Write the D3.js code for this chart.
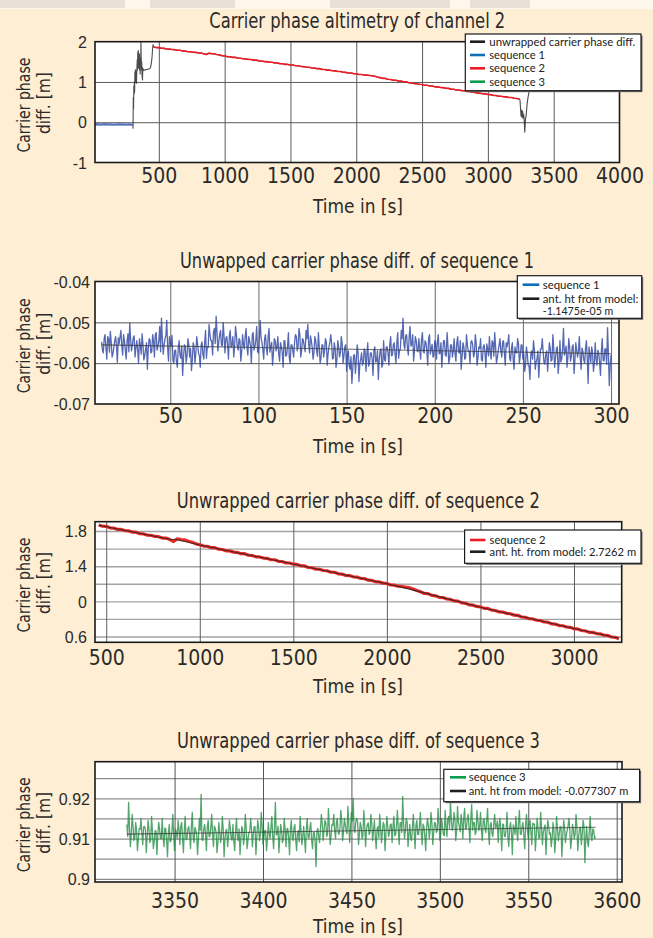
<!DOCTYPE html>
<html>
<head>
<meta charset="utf-8">
<script src="https://cdn.jsdelivr.net/npm/d3@7"></script>
<style>
  html, body { margin: 0; padding: 0; background: #fdeed4; }
  svg { display: block; }
</style>
</head>
<body>
<svg id="fig" width="653" height="938"></svg>
<script>
// ---------------------------------------------------------------------------
// Data (time in seconds, carrier phase difference in metres)
// ---------------------------------------------------------------------------

// Sequence 1: 2 Hz samples starting at t = 11 s
const seq1Start = 11;
const seq1Step = 0.5;
const seq1Values = [
  -0.0548,-0.0567,-0.0575,-0.0540,-0.0530,-0.0563,-0.0590,-0.0535,-0.0540,-0.0573,-0.0522,-0.0549,-0.0585,-0.0577,-0.0560,-0.0545,-0.0535,-0.0560,-0.0598,-0.0538,
  -0.0552,-0.0535,-0.0520,-0.0558,-0.0580,-0.0530,-0.0545,-0.0568,-0.0590,-0.0544,-0.0528,-0.0572,-0.0502,-0.0540,-0.0570,-0.0555,-0.0538,-0.0533,-0.0585,-0.0562,
  -0.0545,-0.0568,-0.0600,-0.0540,-0.0555,-0.0578,-0.0528,-0.0554,-0.0592,-0.0582,-0.0565,-0.0550,-0.0615,-0.0565,-0.0540,-0.0543,-0.0575,-0.0572,-0.0530,-0.0545,
  -0.0585,-0.0530,-0.0525,-0.0568,-0.0560,-0.0544,-0.0510,-0.0572,-0.0490,-0.0540,-0.0578,-0.0555,-0.0540,-0.0533,-0.0495,-0.0562,-0.0595,-0.0535,-0.0550,-0.0558,
  -0.0532,-0.0593,-0.0600,-0.0569,-0.0568,-0.0597,-0.0610,-0.0565,-0.0545,-0.0580,-0.0588,-0.0558,-0.0630,-0.0587,-0.0555,-0.0560,-0.0598,-0.0583,-0.0540,-0.0555,
  -0.0585,-0.0564,-0.0618,-0.0592,-0.0550,-0.0560,-0.0600,-0.0575,-0.0535,-0.0553,-0.0575,-0.0582,-0.0610,-0.0555,-0.0548,-0.0578,-0.0590,-0.0550,-0.0520,-0.0588,
  -0.0560,-0.0562,-0.0505,-0.0530,-0.0545,-0.0545,-0.0580,-0.0523,-0.0515,-0.0552,-0.0485,-0.0525,-0.0570,-0.0548,-0.0530,-0.0520,-0.0555,-0.0558,-0.0500,-0.0534,
  -0.0575,-0.0540,-0.0535,-0.0555,-0.0590,-0.0533,-0.0520,-0.0562,-0.0555,-0.0535,-0.0585,-0.0558,-0.0510,-0.0530,-0.0560,-0.0568,-0.0540,-0.0544,-0.0595,-0.0572,
  -0.0530,-0.0555,-0.0565,-0.0533,-0.0515,-0.0562,-0.0580,-0.0535,-0.0545,-0.0558,-0.0600,-0.0530,-0.0525,-0.0568,-0.0560,-0.0544,-0.0510,-0.0572,-0.0575,-0.0540,
  -0.0495,-0.0538,-0.0550,-0.0567,-0.0590,-0.0540,-0.0530,-0.0563,-0.0580,-0.0535,-0.0515,-0.0573,-0.0560,-0.0549,-0.0605,-0.0577,-0.0540,-0.0545,-0.0570,-0.0560,
  -0.0535,-0.0577,-0.0595,-0.0550,-0.0560,-0.0573,-0.0610,-0.0545,-0.0545,-0.0583,-0.0580,-0.0559,-0.0525,-0.0587,-0.0600,-0.0555,-0.0555,-0.0570,-0.0585,-0.0548,
  -0.0530,-0.0535,-0.0570,-0.0558,-0.0515,-0.0530,-0.0585,-0.0568,-0.0540,-0.0544,-0.0560,-0.0572,-0.0520,-0.0540,-0.0505,-0.0555,-0.0575,-0.0533,-0.0545,-0.0562,
  -0.0590,-0.0573,-0.0535,-0.0545,-0.0570,-0.0583,-0.0525,-0.0559,-0.0600,-0.0587,-0.0555,-0.0555,-0.0585,-0.0570,-0.0540,-0.0548,-0.0605,-0.0577,-0.0560,-0.0550,
  -0.0530,-0.0550,-0.0590,-0.0588,-0.0550,-0.0564,-0.0610,-0.0592,-0.0545,-0.0560,-0.0585,-0.0575,-0.0535,-0.0553,-0.0600,-0.0582,-0.0560,-0.0555,-0.0620,-0.0578,
  -0.0570,-0.0608,-0.0615,-0.0584,-0.0650,-0.0612,-0.0580,-0.0580,-0.0625,-0.0595,-0.0555,-0.0573,-0.0645,-0.0602,-0.0590,-0.0575,-0.0605,-0.0598,-0.0565,-0.0570,
  -0.0620,-0.0579,-0.0550,-0.0607,-0.0600,-0.0575,-0.0575,-0.0590,-0.0630,-0.0568,-0.0560,-0.0597,-0.0595,-0.0570,-0.0640,-0.0593,-0.0570,-0.0565,-0.0610,-0.0603,
  -0.0545,-0.0592,-0.0595,-0.0560,-0.0560,-0.0575,-0.0605,-0.0553,-0.0535,-0.0582,-0.0580,-0.0555,-0.0550,-0.0578,-0.0600,-0.0550,-0.0525,-0.0588,-0.0570,-0.0564,
  -0.0520,-0.0540,-0.0490,-0.0555,-0.0565,-0.0533,-0.0530,-0.0562,-0.0580,-0.0535,-0.0510,-0.0558,-0.0555,-0.0530,-0.0595,-0.0568,-0.0535,-0.0544,-0.0570,-0.0572,
  -0.0540,-0.0565,-0.0590,-0.0543,-0.0525,-0.0572,-0.0575,-0.0545,-0.0550,-0.0568,-0.0605,-0.0540,-0.0530,-0.0578,-0.0565,-0.0554,-0.0585,-0.0582,-0.0545,-0.0550,
  -0.0590,-0.0548,-0.0530,-0.0577,-0.0575,-0.0550,-0.0610,-0.0573,-0.0545,-0.0545,-0.0580,-0.0583,-0.0525,-0.0559,-0.0600,-0.0587,-0.0555,-0.0555,-0.0585,-0.0570,
  -0.0540,-0.0577,-0.0595,-0.0550,-0.0535,-0.0573,-0.0575,-0.0545,-0.0615,-0.0583,-0.0550,-0.0559,-0.0590,-0.0587,-0.0530,-0.0555,-0.0570,-0.0570,-0.0600,-0.0548,
  -0.0545,-0.0555,-0.0585,-0.0578,-0.0530,-0.0550,-0.0605,-0.0588,-0.0560,-0.0564,-0.0540,-0.0592,-0.0595,-0.0560,-0.0555,-0.0575,-0.0610,-0.0553,-0.0565,-0.0582,
  -0.0535,-0.0573,-0.0590,-0.0545,-0.0550,-0.0583,-0.0525,-0.0559,-0.0600,-0.0587,-0.0570,-0.0555,-0.0540,-0.0570,-0.0585,-0.0548,-0.0545,-0.0577,-0.0605,-0.0550,
  -0.0560,-0.0550,-0.0530,-0.0588,-0.0595,-0.0564,-0.0550,-0.0592,-0.0615,-0.0560,-0.0575,-0.0575,-0.0540,-0.0553,-0.0600,-0.0582,-0.0555,-0.0555,-0.0590,-0.0578,
  -0.0620,-0.0603,-0.0560,-0.0579,-0.0605,-0.0607,-0.0640,-0.0575,-0.0570,-0.0590,-0.0545,-0.0568,-0.0615,-0.0597,-0.0590,-0.0570,-0.0635,-0.0593,-0.0565,-0.0565,
  -0.0540,-0.0574,-0.0600,-0.0602,-0.0575,-0.0570,-0.0620,-0.0585,-0.0550,-0.0563,-0.0595,-0.0592,-0.0530,-0.0565,-0.0610,-0.0588,-0.0565,-0.0560,-0.0625,-0.0598,
  -0.0545,-0.0597,-0.0590,-0.0565,-0.0515,-0.0580,-0.0570,-0.0558,-0.0610,-0.0587,-0.0540,-0.0560,-0.0595,-0.0583,-0.0560,-0.0555,-0.0625,-0.0593,-0.0550,-0.0569,
  -0.0585,-0.0570,-0.0535,-0.0585,-0.0615,-0.0563,-0.0570,-0.0592,-0.0600,-0.0565,-0.0545,-0.0588,-0.0650,-0.0560,-0.0580,-0.0598,-0.0560,-0.0574,-0.0620,-0.0602,
  -0.0550,-0.0590,-0.0605,-0.0568,-0.0575,-0.0597,-0.0630,-0.0570,-0.0540,-0.0593,-0.0595,-0.0565,-0.0565,-0.0603,-0.0513,-0.0579,-0.0655,-0.0607,-0.0580
];
const seq1ModelTimes = [11, 300];
const seq1ModelValues = [-0.0555, -0.0577];

// Sequence 2: samples every 20 s starting at t = 460 s
const seq2Start = 460;
const seq2Step = 20;
const seq2Values = [
  1.869, 1.854, 1.853, 1.836, 1.834, 1.818, 1.818, 1.805, 1.802, 1.787,
  1.787, 1.769, 1.767, 1.752, 1.751, 1.738, 1.736, 1.720, 1.720, 1.703,
  1.680, 1.712, 1.703, 1.699, 1.684, 1.672, 1.654, 1.643, 1.629, 1.627,
  1.611, 1.611, 1.593, 1.590, 1.575, 1.574, 1.560, 1.558, 1.542, 1.542,
  1.524, 1.521, 1.506, 1.505, 1.492, 1.489, 1.473, 1.473, 1.455, 1.453,
  1.437, 1.436, 1.423, 1.420, 1.404, 1.403, 1.385, 1.382, 1.366, 1.365,
  1.351, 1.348, 1.332, 1.331, 1.313, 1.310, 1.294, 1.293, 1.279, 1.276,
  1.260, 1.259, 1.241, 1.238, 1.222, 1.221, 1.207, 1.204, 1.186, 1.184,
  1.172, 1.169, 1.162, 1.156, 1.140, 1.123, 1.108, 1.090, 1.088, 1.068,
  1.063, 1.045, 1.043, 1.027, 1.022, 1.005, 1.002, 0.982, 0.978, 0.960,
  0.957, 0.942, 0.937, 0.920, 0.919, 0.900, 0.896, 0.879, 0.878, 0.863,
  0.859, 0.843, 0.841, 0.822, 0.818, 0.802, 0.800, 0.785, 0.782, 0.765,
  0.763, 0.744, 0.741, 0.724, 0.722, 0.708, 0.704, 0.687, 0.686, 0.668,
  0.664, 0.648, 0.647, 0.633, 0.630, 0.614, 0.613, 0.594, 0.591, 0.575
];
const seq2ModelTimes = [460, 840, 880, 1000, 1500, 2000, 2100, 2500, 3000, 3240];
const seq2ModelValues = [1.865, 1.707, 1.700, 1.640, 1.425, 1.200, 1.150, 0.933, 0.690, 0.580];

// Sequence 3: 2 Hz samples starting at t = 3323 s
const seq3Start = 3323;
const seq3Step = 0.5;
const seq3Values = [
  0.9135,0.9105,0.9190,0.9128,0.9080,0.9109,0.9160,0.9131,0.9095,0.9101,0.9140,0.9120,0.9070,0.9097,0.9125,0.9123,0.9150,0.9111,0.9085,0.9129,
  0.9130,0.9123,0.9065,0.9104,0.9145,0.9126,0.9090,0.9096,0.9155,0.9115,0.9075,0.9092,0.9120,0.9118,0.9060,0.9106,0.9140,0.9124,0.9100,0.9100,
  0.9150,0.9104,0.9080,0.9126,0.9125,0.9096,0.9055,0.9115,0.9135,0.9092,0.9095,0.9118,0.9160,0.9106,0.9070,0.9124,0.9115,0.9100,0.9145,0.9123,
  0.9085,0.9131,0.9140,0.9101,0.9065,0.9120,0.9155,0.9097,0.9100,0.9123,0.9130,0.9111,0.9075,0.9129,0.9165,0.9105,0.9090,0.9128,0.9120,0.9109,
  0.9060,0.9101,0.9150,0.9120,0.9210,0.9097,0.9095,0.9123,0.9135,0.9111,0.9070,0.9129,0.9145,0.9105,0.9105,0.9128,0.9160,0.9109,0.9080,0.9131,
  0.9125,0.9115,0.9065,0.9092,0.9140,0.9118,0.9090,0.9106,0.9155,0.9124,0.9055,0.9100,0.9120,0.9123,0.9080,0.9104,0.9145,0.9126,0.9100,0.9096,
  0.9135,0.9092,0.9070,0.9118,0.9150,0.9106,0.9095,0.9124,0.9060,0.9100,0.9130,0.9123,0.9085,0.9104,0.9160,0.9126,0.9075,0.9096,0.9115,0.9115,
  0.9150,0.9123,0.9080,0.9111,0.9130,0.9129,0.9060,0.9105,0.9145,0.9128,0.9095,0.9109,0.9165,0.9131,0.9085,0.9101,0.9120,0.9120,0.9070,0.9097,
  0.9140,0.9111,0.9100,0.9129,0.9155,0.9105,0.9075,0.9128,0.9190,0.9109,0.9110,0.9131,0.9065,0.9101,0.9135,0.9120,0.9090,0.9097,0.9150,0.9123,
  0.9080,0.9124,0.9125,0.9100,0.9060,0.9123,0.9145,0.9104,0.9095,0.9126,0.9135,0.9096,0.9070,0.9115,0.9120,0.9092,0.9155,0.9118,0.9085,0.9106,
  0.9130,0.9100,0.9065,0.9123,0.9150,0.9104,0.9100,0.9126,0.9140,0.9096,0.9075,0.9115,0.9115,0.9092,0.9030,0.9118,0.9125,0.9106,0.9090,0.9124,
  0.9160,0.9138,0.9095,0.9119,0.9145,0.9141,0.9105,0.9111,0.9175,0.9130,0.9085,0.9107,0.9135,0.9133,0.9160,0.9121,0.9100,0.9139,0.9150,0.9115,
  0.9110,0.9124,0.9170,0.9146,0.9095,0.9116,0.9150,0.9135,0.9120,0.9112,0.9180,0.9138,0.9090,0.9126,0.9165,0.9144,0.9200,0.9120,0.9115,0.9143,
  0.9150,0.9141,0.9085,0.9111,0.9140,0.9130,0.9100,0.9107,0.9170,0.9133,0.9080,0.9121,0.9135,0.9139,0.9110,0.9115,0.9160,0.9138,0.9095,0.9119,
  0.9145,0.9106,0.9075,0.9125,0.9130,0.9102,0.9160,0.9128,0.9090,0.9116,0.9140,0.9134,0.9070,0.9110,0.9155,0.9133,0.9105,0.9114,0.9135,0.9136,
  0.9090,0.9130,0.9155,0.9107,0.9110,0.9133,0.9170,0.9121,0.9085,0.9139,0.9140,0.9115,0.9205,0.9138,0.9100,0.9119,0.9150,0.9141,0.9080,0.9111,
  0.9135,0.9102,0.9095,0.9128,0.9160,0.9116,0.9075,0.9134,0.9145,0.9110,0.9110,0.9133,0.9165,0.9114,0.9085,0.9136,0.9130,0.9106,0.9070,0.9125,
  0.9150,0.9133,0.9100,0.9121,0.9165,0.9139,0.9085,0.9115,0.9140,0.9138,0.9115,0.9119,0.9175,0.9141,0.9095,0.9111,0.9150,0.9130,0.9110,0.9107,
  0.9170,0.9131,0.9105,0.9149,0.9155,0.9125,0.9195,0.9148,0.9120,0.9129,0.9165,0.9151,0.9095,0.9121,0.9180,0.9140,0.9130,0.9117,0.9160,0.9143,
  0.9100,0.9149,0.9175,0.9125,0.9125,0.9148,0.9160,0.9129,0.9090,0.9151,0.9185,0.9121,0.9140,0.9140,0.9110,0.9117,0.9170,0.9143,0.9120,0.9131,
  0.9165,0.9120,0.9095,0.9143,0.9150,0.9124,0.9115,0.9146,0.9175,0.9116,0.9085,0.9135,0.9140,0.9112,0.9105,0.9138,0.9160,0.9126,0.9130,0.9144,
  0.9090,0.9133,0.9150,0.9114,0.9070,0.9136,0.9135,0.9106,0.9105,0.9125,0.9165,0.9102,0.9080,0.9128,0.9140,0.9116,0.9060,0.9134,0.9125,0.9110,
  0.9155,0.9119,0.9095,0.9141,0.9170,0.9111,0.9110,0.9130,0.9140,0.9107,0.9075,0.9133,0.9160,0.9121,0.9100,0.9139,0.9145,0.9115,0.9085,0.9138,
  0.9135,0.9136,0.9070,0.9106,0.9150,0.9125,0.9100,0.9102,0.9165,0.9128,0.9085,0.9116,0.9125,0.9134,0.9060,0.9110,0.9145,0.9133,0.9110,0.9114,
  0.9080,0.9101,0.9140,0.9120,0.9065,0.9097,0.9155,0.9123,0.9095,0.9111,0.9130,0.9129,0.9055,0.9105,0.9145,0.9128,0.9090,0.9109,0.9120,0.9131,
  0.9150,0.9120,0.9075,0.9097,0.9135,0.9123,0.9100,0.9111,0.9160,0.9129,0.9070,0.9105,0.9125,0.9128,0.9085,0.9109,0.9145,0.9131,0.9040,0.9101,
  0.9130,0.9092,0.9080,0.9118,0.9155,0.9106,0.9095,0.9124,0.9120,0.9100,0.9105
];
const seq3ModelTimes = [3323, 3588];
const seq3ModelValues = [0.9111, 0.9128];

// Unwrapped samples between the sequences (cycle-slip regions)
const gap1Times = [300, 303, 304, 306, 308, 310, 312, 314, 316, 318, 320, 322, 324, 326, 328,
  330, 332, 334, 336, 338, 340, 342, 344, 346, 348, 350, 352, 354, 356, 358, 360, 362, 364,
  366, 368, 370, 372, 374, 376, 378, 380, 382, 384, 386, 390, 396, 410, 425, 436, 442, 448,
  452, 456, 460];
const gap1Values = [-0.058, -0.06, -0.15, 0.62, 0.35, 0.9, 0.7, 1.0, 0.75, 1.25, 1.1, 1.3, 1.0,
  1.28, 1.15, 0.97, 1.2, 1.4, 1.55, 1.3, 1.75, 1.5, 1.78, 1.35, 1.65, 1.45, 1.7, 1.3, 1.6, 1.2,
  1.5, 1.4, 2.0, 1.6, 1.3, 1.5, 1.2, 1.1, 1.05, 1.35, 1.3, 1.28, 1.3, 1.3, 1.29, 1.3, 1.31,
  1.32, 1.35, 1.45, 1.6, 1.8, 1.93, 1.869];
const gap2Times = [3240, 3244, 3248, 3252, 3256, 3260, 3264, 3268, 3272, 3276, 3280, 3283,
  3286, 3290, 3294, 3298, 3302, 3306, 3310, 3314, 3318, 3323];
const gap2Values = [0.575, 0.55, 0.35, 0.15, 0.3, 0.12, 0.28, 0.1, 0.2, 0.05, -0.25, -0.1,
  0.1, 0.14, 0.3, 0.45, 0.55, 0.64, 0.7, 0.8, 0.85, 0.9135];

// Axis ticks and labels
const p1XTicks = [500, 1000, 1500, 2000, 2500, 3000, 3500, 4000];
const p1YTicks = [-1, 0, 1, 2];
const p1YGrid = [0, 1];
const p2XTicks = [50, 100, 150, 200, 250, 300];
const p2YTicks = [-0.07, -0.06, -0.05, -0.04];
const p2YGrid = [-0.06, -0.05];
const p3XTicks = [500, 1000, 1500, 2000, 2500, 3000];
const p3YTicks = [0.6, 0.8, 1.0, 1.2, 1.4, 1.6, 1.8];
const p3YTickLabels = ["0.6", "", "0", "", "1.4", "", "1.8"];
const p4XTicks = [3350, 3400, 3450, 3500, 3550, 3600];
const p4YTicks = [0.9, 0.905, 0.91, 0.915, 0.92, 0.925];
const p4YTickLabels = ["0.9", "", "0.91", "", "0.92", ""];

// Titles and legend entries
const titles = [
  "Carrier phase altimetry of channel 2",
  "Unwapped carrier phase diff. of sequence 1",
  "Unwrapped carrier phase diff. of sequence 2",
  "Unwrapped carrier phase diff. of sequence 3"
];
const legend1Labels = ["unwrapped carrier phase diff.", "sequence 1", "sequence 2", "sequence 3"];
const legend2Labels = ["sequence 1", "ant. ht from model:", "-1.1475e-05 m"];
const legend3Labels = ["sequence 2", "ant. ht. from model: 2.7262 m"];
const legend4Labels = ["sequence 3", "ant. ht from model: -0.077307 m"];

// ---------------------------------------------------------------------------
// Helpers
// ---------------------------------------------------------------------------
const COLORS = { black: "#1e1e1e", blue: "#0d6fba", red: "#ed1c24", green: "#0a9d4a" };
const NARROW = "'Liberation Sans Narrow','DejaVu Sans Condensed','Roboto',sans-serif";
const REGULAR = "'Liberation Sans','DejaVu Sans',sans-serif";
const LEGEND_FONT = "'Lato','Open Sans',sans-serif";

// tick labels use a plain hyphen for the minus sign
const hyphen = f => d => f(d).replace("\u2212", "-");

const toPoints = (start, step, values) => values.map((v, i) => [start + i * step, v]);
const zipPoints = (times, values) => times.map((t, i) => [t, values[i]]);

const seq1 = toPoints(seq1Start, seq1Step, seq1Values);
const seq2 = toPoints(seq2Start, seq2Step, seq2Values);
const seq3 = toPoints(seq3Start, seq3Step, seq3Values);
const seq1Model = zipPoints(seq1ModelTimes, seq1ModelValues);
const seq2Model = zipPoints(seq2ModelTimes, seq2ModelValues);
const seq3Model = zipPoints(seq3ModelTimes, seq3ModelValues);
const gap1 = zipPoints(gap1Times, gap1Values);
const gap2 = zipPoints(gap2Times, gap2Values);
const unwrapped = [].concat(seq1, gap1, seq2, gap2, seq3);

const svg = d3.select("#fig");
svg.append("rect").attr("width", 653).attr("height", 938).attr("fill", "#fdeed4");

// faint masthead strip along the top edge
const mast = svg.append("g").attr("opacity", 0.55);
mast.append("rect").attr("x", 0).attr("y", 0).attr("width", 653).attr("height", 9).attr("fill", "#ffffff");
[[0, 125], [150, 85], [330, 120], [470, 60]].forEach(([x0, w]) =>
  mast.append("rect").attr("x", x0).attr("y", 0).attr("width", w).attr("height", 8).attr("fill", "#d8d8dc"));

function drawPanel(o) {
  const x = d3.scaleLinear().domain(o.xDomain).range([o.left, o.right]);
  const y = d3.scaleLinear().domain(o.yDomain).range([o.bottom, o.top]);
  const w = o.right - o.left, h = o.bottom - o.top;
  const g = svg.append("g");

  g.append("rect").attr("x", o.left).attr("y", o.top).attr("width", w).attr("height", h).attr("fill", "#ffffff");

  // horizontal grid
  const gy = g.append("g").attr("transform", `translate(${o.left},0)`)
    .call(d3.axisLeft(y).tickValues(o.yGrid).tickSize(-w).tickFormat(""));
  gy.select(".domain").remove();
  gy.selectAll("line").attr("stroke", o.hGridColor).attr("stroke-width", o.hGridWidth);

  // vertical grid
  const gx = g.append("g").attr("transform", `translate(0,${o.bottom})`)
    .call(d3.axisBottom(x).tickValues(o.xGrid).tickSize(-h).tickFormat(""));
  gx.select(".domain").remove();
  gx.selectAll("line").attr("stroke", o.vGridColor).attr("stroke-width", 1);

  // data, clipped to the plot box
  const clipId = "clip-" + o.id;
  svg.append("clipPath").attr("id", clipId).append("rect")
    .attr("x", o.left).attr("y", o.top).attr("width", w).attr("height", h);
  const plot = g.append("g").attr("clip-path", `url(#${clipId})`);
  const line = d3.line().x(d => x(d[0])).y(d => y(d[1]));
  o.series.forEach(s => {
    plot.append("path").datum(s.data).attr("d", line).attr("fill", "none")
      .attr("stroke", s.color).attr("stroke-width", s.width)
      .attr("stroke-opacity", s.opacity || 1).attr("stroke-linejoin", "round");
  });

  // frame
  g.append("rect").attr("x", o.left).attr("y", o.top).attr("width", w).attr("height", h)
    .attr("fill", "none").attr("stroke", "#1a1a1a").attr("stroke-width", 1.6);

  // x tick labels
  const ax = g.append("g").attr("transform", `translate(0,${o.xLabelY})`)
    .call(d3.axisBottom(x).tickValues(o.xTicks).tickSize(0).tickPadding(0).tickFormat(d3.format("d")));
  ax.select(".domain").remove();
  ax.selectAll("line").remove();
  ax.selectAll("text").attr("y", 0).attr("dy", 0)
    .attr("font-family", NARROW).attr("font-size", 21).attr("fill", "#2a2a2a");

  // y tick labels
  const ay = g.append("g").attr("transform", `translate(${o.yLabelX},0)`)
    .call(d3.axisLeft(y).tickValues(o.yTicks).tickSize(0).tickPadding(0).tickFormat(o.yFormat));
  ay.select(".domain").remove();
  ay.selectAll("line").remove();
  ay.selectAll("text").attr("x", 0).attr("dy", "0.36em")
    .attr("font-family", REGULAR).attr("font-size", 16).attr("fill", "#2a2a2a");

  // title
  g.append("text").attr("x", (o.left + o.right) / 2).attr("y", o.titleY)
    .attr("text-anchor", "middle").attr("font-family", NARROW).attr("font-size", 21)
    .attr("fill", "#2a2a2a").attr("textLength", o.titleLen).attr("lengthAdjust", "spacingAndGlyphs")
    .text(o.title);

  // x axis title
  g.append("text").attr("x", 358).attr("y", o.xTitleY).attr("text-anchor", "middle")
    .attr("font-family", NARROW).attr("font-size", 20).attr("fill", "#2a2a2a")
    .attr("textLength", 90).attr("lengthAdjust", "spacingAndGlyphs").text("Time in [s]");

  // y axis title (two lines)
  const cy = (o.top + o.bottom) / 2 + 3;
  g.append("text").attr("transform", `translate(30,${cy}) rotate(-90)`).attr("text-anchor", "middle")
    .attr("font-family", NARROW).attr("font-size", 18).attr("fill", "#2a2a2a")
    .attr("textLength", 95).attr("lengthAdjust", "spacingAndGlyphs").text("Carrier phase");
  g.append("text").attr("transform", `translate(50,${cy - 2}) rotate(-90)`).attr("text-anchor", "middle")
    .attr("font-family", NARROW).attr("font-size", 18).attr("fill", "#2a2a2a")
    .attr("textLength", 62).attr("lengthAdjust", "spacingAndGlyphs").text("diff. [m]");

  // legend
  const L = o.legend;
  const lg = svg.append("g");
  lg.append("rect").attr("x", L.x0 + 1.5).attr("y", L.y0 + 1.5).attr("width", L.x1 - L.x0).attr("height", L.y1 - L.y0)
    .attr("fill", "#6d6d6d");
  lg.append("rect").attr("x", L.x0).attr("y", L.y0).attr("width", L.x1 - L.x0).attr("height", L.y1 - L.y0)
    .attr("fill", "#ffffff").attr("stroke", "#1a1a1a").attr("stroke-width", 1.2);
  L.rows.forEach(r => {
    if (r.color) {
      lg.append("line").attr("x1", L.lineX0).attr("x2", L.lineX1).attr("y1", r.y).attr("y2", r.y)
        .attr("stroke", r.color).attr("stroke-width", 2.6);
    }
    lg.append("text").attr("x", L.textX).attr("y", r.y).attr("dy", "0.35em")
      .attr("font-family", LEGEND_FONT).attr("font-size", 11).attr("fill", "#222")
      .attr("textLength", r.len).attr("lengthAdjust", "spacingAndGlyphs").text(r.label);
  });
}

// ---------------------------------------------------------------------------
// Panel 1: full pass
// ---------------------------------------------------------------------------
drawPanel({
  id: "p1", left: 95, right: 619.5, top: 41.7, bottom: 162.5,
  xDomain: [15, 4000], yDomain: [-1, 2],
  xTicks: p1XTicks, xGrid: p1XTicks.slice(0, -1), yTicks: p1YTicks, yGrid: p1YGrid,
  yFormat: hyphen(d3.format("d")), yLabelX: 87,
  hGridColor: "#5a5a5a", hGridWidth: 1, vGridColor: "#5a5a5a",
  xLabelY: 183, xTitleY: 213, titleY: 28.3, titleLen: 296, title: titles[0],
  series: [
    { data: unwrapped, color: "#2b2b2b", width: 1.1, opacity: 0.85 },
    { data: seq1, color: "#5673c4", width: 1.6 },
    { data: seq2, color: COLORS.red, width: 1.6 },
    { data: seq3, color: COLORS.green, width: 1.2 }
  ],
  legend: {
    x0: 465.3, x1: 641, y0: 34, y1: 90.7, lineX0: 470, lineX1: 485, textX: 489.3,
    rows: [
      { label: legend1Labels[0], color: COLORS.black, y: 41.7, len: 146 },
      { label: legend1Labels[1], color: COLORS.blue, y: 55, len: 55.7 },
      { label: legend1Labels[2], color: COLORS.red, y: 68.3, len: 55.7 },
      { label: legend1Labels[3], color: COLORS.green, y: 81.7, len: 55.7 }
    ]
  }
});

// ---------------------------------------------------------------------------
// Panel 2: sequence 1
// ---------------------------------------------------------------------------
drawPanel({
  id: "p2", left: 95, right: 619, top: 281.5, bottom: 404,
  xDomain: [7.3, 304.5], yDomain: [-0.07, -0.04],
  xTicks: p2XTicks, xGrid: p2XTicks, yTicks: p2YTicks, yGrid: p2YGrid,
  yFormat: hyphen(d3.format(".2f")), yLabelX: 90,
  hGridColor: "#555555", hGridWidth: 1, vGridColor: "#6a6a6a",
  xLabelY: 423.3, xTitleY: 453.3, titleY: 268.3, titleLen: 354, title: titles[1],
  series: [
    { data: seq1, color: "#2a42a0", width: 1.3, opacity: 0.8 },
    { data: seq1Model, color: "#3a3a3a", width: 1.2, opacity: 0.75 }
  ],
  legend: {
    x0: 517.3, x1: 641.7, y0: 275.7, y1: 318.3, lineX0: 522.7, lineX1: 539.3, textX: 542.7,
    rows: [
      { label: legend2Labels[0], color: COLORS.blue, y: 284.7, len: 57 },
      { label: legend2Labels[1], color: COLORS.black, y: 298.7, len: 95.6 },
      { label: legend2Labels[2], color: null, y: 311, len: 70.6 }
    ]
  }
});

// ---------------------------------------------------------------------------
// Panel 3: sequence 2
// ---------------------------------------------------------------------------
drawPanel({
  id: "p3", left: 95, right: 621.7, top: 521.7, bottom: 642.3,
  xDomain: [440, 3255], yDomain: [0.534, 1.906],
  xTicks: p3XTicks, xGrid: p3XTicks, yTicks: p3YTicks, yGrid: p3YTicks,
  yFormat: (d, i) => p3YTickLabels[i], yLabelX: 87,
  hGridColor: "#a3a3a3", hGridWidth: 1.4, vGridColor: "#5e5e5e",
  xLabelY: 665, xTitleY: 693.3, titleY: 508.3, titleLen: 363, title: titles[2],
  series: [
    { data: seq2, color: "#ec2a26", width: 3.2 },
    { data: seq2Model, color: "#262626", width: 1.1, opacity: 0.85 }
  ],
  legend: {
    x0: 464.6, x1: 641, y0: 530, y1: 563.3, lineX0: 470, lineX1: 485.4, textX: 489.6,
    rows: [
      { label: legend3Labels[0], color: COLORS.red, y: 540, len: 56 },
      { label: legend3Labels[1], color: COLORS.black, y: 551.7, len: 146.6 }
    ]
  }
});

// ---------------------------------------------------------------------------
// Panel 4: sequence 3
// ---------------------------------------------------------------------------
drawPanel({
  id: "p4", left: 95, right: 622, top: 761.7, bottom: 882,
  xDomain: [3305, 3603], yDomain: [0.8992, 0.9291],
  xTicks: p4XTicks, xGrid: p4XTicks, yTicks: p4YTicks, yGrid: p4YTicks,
  yFormat: (d, i) => p4YTickLabels[i], yLabelX: 90,
  hGridColor: "#8c8c8c", hGridWidth: 1.2, vGridColor: "#555555",
  xLabelY: 908.3, xTitleY: 933.3, titleY: 748.3, titleLen: 363, title: titles[3],
  series: [
    { data: seq3, color: "#18883a", width: 1.3, opacity: 0.75 },
    { data: seq3Model, color: "#3a3a3a", width: 1.1, opacity: 0.75 }
  ],
  legend: {
    x0: 443.8, x1: 639.6, y0: 769.3, y1: 801.7, lineX0: 450, lineX1: 466, textX: 468.7,
    rows: [
      { label: legend4Labels[0], color: COLORS.green, y: 777.3, len: 57 },
      { label: legend4Labels[1], color: COLORS.black, y: 791, len: 159.6 }
    ]
  }
});
</script>
</body>
</html>
